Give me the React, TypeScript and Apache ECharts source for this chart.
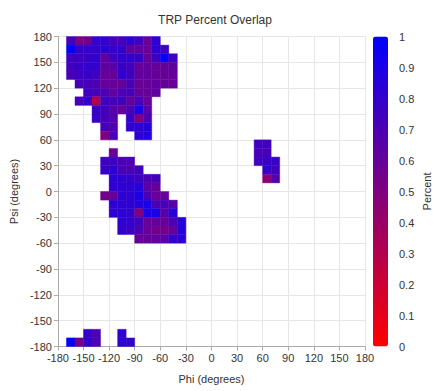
import { useEffect, useRef } from "react";
import * as echarts from "echarts";

// Each row: [psi bin start, phi start of the first bin, per-bin overlap values]
type Row = [number, number, number[]];

const BIN = 10;
const AXIS_TICK = 30;

// Beta-sheet region (upper left)
const betaRows: Row[] = [
  [170, -170, [0.75, 0.52, 0.55, 0.8, 0.8, 0.72, 0.72, 0.82, 0.75, 0.6, 0.82]],
  [160, -170, [1.0, 0.78, 0.8, 0.8, 0.82, 0.8, 0.8, 0.62, 0.62, 0.6, 0.82, 0.75]],
  [150, -170, [0.75, 0.75, 0.78, 0.8, 0.62, 0.75, 0.8, 0.8, 0.78, 0.6, 0.75, 0.97, 0.75]],
  [140, -170, [0.75, 0.78, 0.8, 0.8, 0.62, 0.65, 0.78, 0.75, 0.6, 0.62, 0.6, 0.6, 0.62]],
  [130, -170, [0.72, 0.75, 0.78, 0.75, 0.6, 0.6, 0.82, 0.75, 0.62, 0.62, 0.6, 0.6, 0.6]],
  [120, -160, [0.72, 0.72, 0.7, 0.6, 0.6, 0.6, 0.72, 0.6, 0.6, 0.62, 0.6, 0.6]],
  [110, -150, [0.75, 0.72, 0.7, 0.62, 0.7, 0.72, 0.6, 0.6, 0.62]],
  [100, -160, [0.72, 0.78, 0.3, 0.75, 0.72, 0.75, 0.62, 0.7, 0.6]],
  [90, -140, [0.78, 0.75, 0.65, 0.6, 0.7, 0.9, 0.65]],
  [80, -140, [0.78, 0.72, 0.68]],
  [80, -100, [0.78, 0.5, 0.7]],
  [70, -130, [0.72, 0.68]],
  [70, -100, [0.82, 0.82, 0.85]],
  [60, -130, [0.5, 0.72]],
  [60, -90, [0.82, 0.85]],
];

// Right-handed helix region
const alphaRows: Row[] = [
  [40, -120, [0.6]],
  [30, -130, [0.75, 0.75, 0.7, 0.7]],
  [20, -130, [0.78, 0.82, 0.7, 0.7, 0.75]],
  [10, -120, [0.82, 0.82, 0.8, 0.75, 0.7, 0.72]],
  [0, -120, [0.82, 0.82, 0.82, 0.85, 0.65, 0.6]],
  [-10, -130, [0.55, 0.6, 0.82, 0.82, 0.9, 0.7, 0.6, 0.6]],
  [-20, -120, [0.82, 0.82, 0.82, 0.85, 0.9, 0.7, 0.72, 0.65]],
  [-30, -120, [0.82, 0.82, 0.8, 0.5, 0.9, 0.9, 0.65, 0.85]],
  [-40, -110, [0.82, 0.8, 0.75, 0.6, 0.62, 0.6, 0.7, 0.85]],
  [-50, -110, [0.8, 0.78, 0.7, 0.6, 0.55, 0.55, 0.6, 0.85]],
  [-60, -90, [0.6, 0.6, 0.62, 0.65, 0.8, 0.82]],
];

// Left-handed helix region
const leftRows: Row[] = [
  [50, 50, [0.75, 0.75]],
  [40, 50, [0.72, 0.72]],
  [30, 50, [0.75, 0.78, 0.78]],
  [20, 60, [0.8, 0.75]],
  [10, 60, [0.45, 0.68]],
];

// Bins wrapping around psi = -180
const wrapRows: Row[] = [
  [-170, -150, [0.8, 0.7]],
  [-170, -110, [0.82]],
  [-180, -170, [1.0, 0.55, 0.8, 0.7]],
  [-180, -110, [0.82, 0.8]],
];

const FONT = "'Liberation Sans', Arial, sans-serif";
const TEXT_COLOR = "#333";

function toCells(rows: Row[]): number[][] {
  const cells: number[][] = [];
  rows.forEach(([psi, phiStart, values]) => {
    values.forEach((v, i) => cells.push([phiStart + i * BIN, psi, v]));
  });
  return cells;
}

export default function App() {
  const ref = useRef<HTMLDivElement>(null);

  useEffect(() => {
    if (!ref.current) return;
    const chart = echarts.init(ref.current, undefined, { renderer: "svg" });
    const cells = [
      ...toCells(betaRows),
      ...toCells(alphaRows),
      ...toCells(leftRows),
      ...toCells(wrapRows),
    ];

    const axisCommon = {
      type: "value" as const,
      min: -180,
      max: 180,
      interval: AXIS_TICK,
      nameLocation: "middle" as const,
      nameTextStyle: { fontSize: 11, color: TEXT_COLOR, fontFamily: FONT },
      axisLine: { show: true, onZero: false, lineStyle: { color: "#aaa" } },
      axisTick: { show: true, length: 4, lineStyle: { color: "#aaa" } },
      axisLabel: { fontSize: 11, color: TEXT_COLOR, fontFamily: FONT, margin: 6 },
      splitLine: { show: true, lineStyle: { color: "#e6e6e6" } },
    };

    chart.setOption({
      animation: false,
      backgroundColor: "#fff",
      title: {
        text: "TRP Percent Overlap",
        left: 210,
        textAlign: "center",
        top: 9,
        textStyle: { fontSize: 12, fontWeight: "normal", color: TEXT_COLOR, fontFamily: FONT },
      },
      grid: [
        { left: 55, top: 36.5, width: 310, height: 310 },
        { left: 373, top: 36.5, width: 15, height: 310 },
      ],
      xAxis: [
        { ...axisCommon, gridIndex: 0, name: "Phi (degrees)", nameGap: 27 },
        { type: "value", gridIndex: 1, min: 0, max: 1, show: false },
      ],
      yAxis: [
        { ...axisCommon, gridIndex: 0, name: "Psi (degrees)", nameGap: 32 },
        {
          type: "value",
          gridIndex: 1,
          min: 0,
          max: 1,
          interval: 0.1,
          position: "right",
          name: "Percent",
          nameLocation: "middle",
          nameGap: 34,
          nameTextStyle: { fontSize: 11, color: TEXT_COLOR, fontFamily: FONT },
          axisLine: { show: false },
          axisTick: { show: false },
          splitLine: { show: false },
          axisLabel: { fontSize: 11, color: TEXT_COLOR, fontFamily: FONT, margin: 12 },
        },
      ],
      visualMap: {
        type: "continuous",
        min: 0,
        max: 1,
        dimension: 2,
        seriesIndex: 0,
        orient: "vertical",
        left: 373,
        top: 36.5,
        padding: 0,
        itemWidth: 15,
        itemHeight: 310,
        calculable: false,
        hoverLink: false,
        inRange: { color: ["#ff0000", "#0000ff"] },
      },
      series: [
        {
          type: "custom",
          coordinateSystem: "cartesian2d",
          xAxisIndex: 0,
          yAxisIndex: 0,
          encode: { x: 0, y: 1 },
          data: cells,
          renderItem: (_params: any, api: any) => {
            const phi = api.value(0);
            const psi = api.value(1);
            const topLeft = api.coord([phi, psi + BIN]);
            const bottomRight = api.coord([phi + BIN, psi]);
            const color = api.visual("color");
            return {
              type: "rect",
              shape: {
                x: topLeft[0],
                y: topLeft[1],
                width: bottomRight[0] - topLeft[0],
                height: bottomRight[1] - topLeft[1],
              },
              style: { fill: color, stroke: color, lineWidth: 0.4 },
            };
          },
        },
      ],
    });

    return () => chart.dispose();
  }, []);

  return (
    <div
      ref={ref}
      style={{ position: "fixed", left: 0, top: 0, width: 433, height: 391, background: "#fff" }}
    />
  );
}
